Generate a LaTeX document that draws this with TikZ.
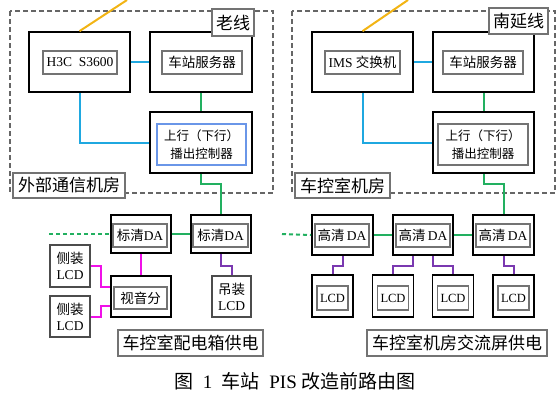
\documentclass[tikz,border=0pt]{standalone}
\usepackage{fontspec}
\setmainfont{Liberation Serif}
\newfontfamily\cjk{Noto Sans CJK SC}
\usetikzlibrary{calc}
\definecolor{netblue}{HTML}{1FA8E0}
\definecolor{vidgreen}{HTML}{22B060}
\definecolor{avpink}{HTML}{F010E8}
\definecolor{lcdpurple}{HTML}{7A38B0}
\definecolor{fiber}{HTML}{F2B414}
\definecolor{ctlblue}{HTML}{6A96E8}
\tikzset{
  zone/.style={draw=black!60, line width=1.6pt, dash pattern=on 5pt off 3pt},
  ob/.style={draw=black, line width=1.7pt, fill=white, inner sep=0pt},            % outer box
  ib/.style={draw=black!55, line width=1.3pt, fill=white, inner sep=1pt,
             font=\fontsize{13.5}{15}\selectfont},                                 % inner box
  sb/.style={draw=black!70, line width=2.2pt, fill=white, align=center, inner sep=1pt,
             font=\fontsize{13.5}{16}\selectfont},                                 % screen box
  tag/.style={draw=black!55, line width=1.3pt, fill=white, inner sep=1pt,
              font=\cjk\fontsize{17}{19}\selectfont},                              % room / power label
  ln/.style={line width=2pt},
}

\begin{document}
\begin{tikzpicture}[x=1pt, y=-1pt]
  \useasboundingbox (0,0) rectangle (556,408);
  % machine rooms
  \draw[zone] (10,11) rectangle (273,193);
  \draw[zone] (292,11) rectangle (555,193);

  % old line
  \node[ob, minimum width=101pt, minimum height=60pt] (h3cO) at (79.5,62) {};
  \node[ib, minimum width=74pt, minimum height=23pt] (h3c) at (80,62.5) {H3C\ \ S3600};
  \node[ob, minimum width=102pt, minimum height=60pt] (srvAO) at (201,62) {};
  \node[ib, minimum width=80pt, minimum height=23pt] (srvA) at (202,62.5) {\cjk 车站服务器};
  \node[ob, minimum width=102pt, minimum height=61pt] (ctlAO) at (201,142.5) {};
  \node[ib, draw=ctlblue, minimum width=89pt, minimum height=41pt, align=center,
        font=\cjk\fontsize{12.5}{18}\selectfont] (ctlA) at (201.5,144.5) {上行（下行）\\播出控制器};

  % south extension
  \node[ob, minimum width=101pt, minimum height=60pt] (imsO) at (362.5,62) {};
  \node[ib, minimum width=75pt, minimum height=23pt] (ims) at (362.5,62.5) {IMS\ {\cjk 交换机}};
  \node[ob, minimum width=101pt, minimum height=60pt] (srvBO) at (483.5,62) {};
  \node[ib, minimum width=80pt, minimum height=23pt] (srvB) at (483,62.5) {\cjk 车站服务器};
  \node[ob, minimum width=101pt, minimum height=61pt] (ctlBO) at (483.5,142.5) {};
  \node[ib, minimum width=90pt, minimum height=41pt, align=center,
        font=\cjk\fontsize{12.5}{18}\selectfont] (ctlB) at (483,144.5) {上行（下行）\\播出控制器};

  % labels
  \node[tag, minimum width=42pt, minimum height=27pt] (tOld) at (233,22.5) {老线};
  \node[tag, minimum width=112pt, minimum height=25pt] (tRoomA) at (69,185.5) {外部通信机房};
  \node[tag, minimum width=59pt, minimum height=26pt] (tNew) at (518.5,21) {南延线};
  \node[tag, minimum width=95pt, minimum height=25pt] (tRoomB) at (342.5,185.5) {车控室机房};

  % SD distribution
  \node[ob, minimum width=60pt, minimum height=38pt] (sdAO) at (141,234) {};
  \node[ib, minimum width=54pt, minimum height=23pt] (sdA) at (140,235.5) {{\cjk 标清}DA};
  \node[ob, minimum width=60pt, minimum height=38pt] (sdBO) at (221,234) {};
  \node[ib, minimum width=55pt, minimum height=23pt] (sdB) at (220.5,235.5) {{\cjk 标清}DA};
  \node[ob, minimum width=60pt, minimum height=41pt] (avO) at (141,296.5) {};
  \node[ib, minimum width=53pt, minimum height=22pt] (av) at (140.5,298) {\cjk 视音分};
  \node[sb, minimum width=40pt, minimum height=42pt] (lcdS1) at (70,266) {{\cjk 侧装}\\LCD};
  \node[sb, minimum width=40pt, minimum height=41pt] (lcdS2) at (70,316.5) {{\cjk 侧装}\\LCD};
  \node[sb, minimum width=39pt, minimum height=41pt] (lcdH) at (231.5,296.5) {{\cjk 吊装}\\LCD};
  \node[tag, minimum width=145pt, minimum height=26pt] (tPowA) at (190.5,343) {车控室配电箱供电};

  % HD distribution
  \node[ob, minimum width=61pt, minimum height=40pt] (hdAO) at (342.5,235) {};
  \node[ib, minimum width=54pt, minimum height=23pt] (hdA) at (342,235.5) {{\cjk 高清}\,DA};
  \node[ob, minimum width=60pt, minimum height=40pt] (hdBO) at (423,235) {};
  \node[ib, minimum width=54pt, minimum height=23pt] (hdB) at (423,235.5) {{\cjk 高清}\,DA};
  \node[ob, minimum width=61pt, minimum height=40pt] (hdCO) at (503.5,235) {};
  \node[ib, minimum width=54pt, minimum height=23pt] (hdC) at (503,235.5) {{\cjk 高清}\,DA};
  \foreach \n/\x in {lcd1/332.5, lcd2/393, lcd3/453, lcd4/513.5} {
    \node[ob, minimum width=41pt, minimum height=42pt] (\n O) at (\x,296) {};
    \node[ib, minimum width=31pt, minimum height=24pt, font=\fontsize{12.5}{14}\selectfont] (\n) at (\x,298) {LCD};
  }
  \node[tag, minimum width=180pt, minimum height=26pt] (tPowB) at (457,343) {车控室机房交流屏供电};

  % free ends
  \coordinate (upA) at (127,0);
  \coordinate (upB) at (408,0);
  \coordinate (feedA) at (49,234);
  \coordinate (feedB) at (282,234);

  % network
  \draw[ln, fiber] (h3cO.north) -- (upA);
  \draw[ln, fiber] (imsO.north) -- (upB);
  \draw[ln, netblue] (h3cO.east) -- (srvAO.west);
  \draw[ln, netblue] (h3cO.south) |- (ctlAO.west);
  \draw[ln, netblue] (imsO.east) -- (srvBO.west);
  \draw[ln, netblue] (imsO.south) |- (ctlBO.west);

  % video
  \draw[ln, vidgreen] (srvAO.south) -- (ctlAO.north);
  \draw[ln, vidgreen] (srvBO.south) -- (ctlBO.north);
  \draw[ln, vidgreen] (ctlAO.south) -- ++(0,10) -| (sdBO.north);
  \draw[ln, vidgreen] (ctlBO.south) -- ++(0,10) -| (hdCO.north);
  \draw[ln, vidgreen] (sdAO.east) -- (sdBO.west);
  \draw[ln, vidgreen] (hdAO.east) -- (hdBO.west);
  \draw[ln, vidgreen] (hdBO.east) -- (hdCO.west);
  \draw[ln, vidgreen, dash pattern=on 4pt off 3pt] (feedA) -- (sdAO.west);
  \draw[ln, vidgreen, dash pattern=on 4pt off 3pt] (feedB) -- (hdAO.west);

  % screens
  \draw[ln, avpink] (sdAO.south) -- (avO.north);
  \draw[ln, avpink] (lcdS1.east) -- ++(10,0) |- ([yshift=9.5pt]avO.west);
  \draw[ln, avpink] (lcdS2.east) -- ++(10,0) |- ([yshift=-9.5pt]avO.west);
  \draw[ln, lcdpurple] (sdBO.south) -- ++(0,12) -| (lcdH.north);
  \draw[ln, lcdpurple] (hdAO.south) -- ++(0,10) -| (lcd1O.north);
  \draw[ln, lcdpurple] ([xshift=-10pt]hdBO.south) -- ++(0,10) -| (lcd2O.north);
  \draw[ln, lcdpurple] ([xshift=10pt]hdBO.south) -- ++(0,10) -| (lcd3O.north);
  \draw[ln, lcdpurple] (hdCO.south) -- ++(0,10) -| (lcd4O.north);

  \node[font=\fontsize{19}{21}\selectfont] (cap) at (295,381)
    {{\cjk 图}\ \ 1\ \ {\cjk 车站}\ \ PIS\ {\cjk 改造前路由图}};
\end{tikzpicture}
\end{document}
